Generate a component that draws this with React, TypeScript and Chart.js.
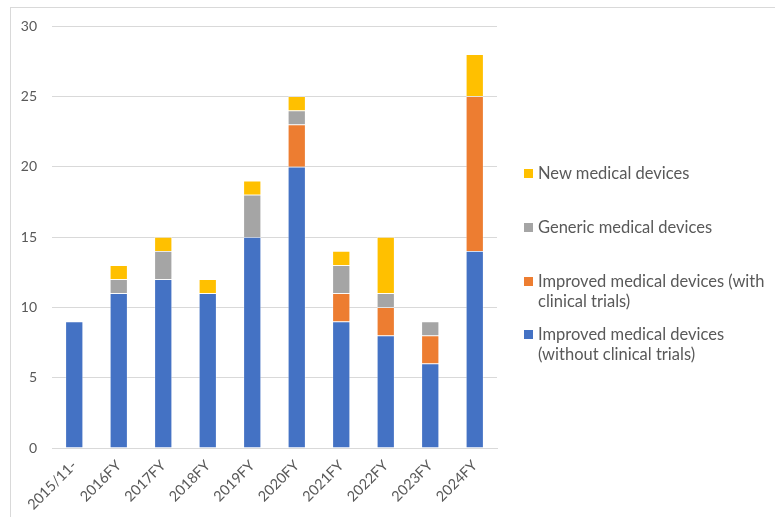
import React, { useEffect, useRef } from "react";
import { Chart, registerables } from "chart.js";

Chart.register(...registerables);

const categories = [
  "2015/11-",
  "2016FY",
  "2017FY",
  "2018FY",
  "2019FY",
  "2020FY",
  "2021FY",
  "2022FY",
  "2023FY",
  "2024FY",
];
const improvedWithout = [9, 11, 12, 11, 15, 20, 9, 8, 6, 14];
const improvedWith = [null, null, null, null, null, 3, 2, 2, 2, 11];
const genericDevices = [null, 1, 2, null, 3, 1, 2, 1, 1, null];
const newDevices = [null, 1, 1, 1, 1, 1, 1, 4, null, 3];

const seriesNames = [
  "Improved medical devices (without clinical trials)",
  "Improved medical devices (with clinical trials)",
  "Generic medical devices",
  "New medical devices",
];
const seriesColors = ["#4472C4", "#ED7D31", "#A5A5A5", "#FFC000"];

const legendItems = [
  { label: ["New medical devices"], color: "#FFC000", top: 163 },
  { label: ["Generic medical devices"], color: "#A5A5A5", top: 217 },
  { label: ["Improved medical devices (with", "clinical trials)"], color: "#ED7D31", top: 271 },
  { label: ["Improved medical devices", "(without clinical trials)"], color: "#4472C4", top: 324 },
];

const FONT = "Lato, 'Liberation Sans', sans-serif";
const TEXT = "#595959";

export default function App() {
  const ref = useRef<HTMLCanvasElement | null>(null);

  useEffect(() => {
    if (!ref.current) return;
    const data = [improvedWithout, improvedWith, genericDevices, newDevices];
    const chart = new Chart(ref.current, {
      type: "bar",
      data: {
        labels: categories,
        datasets: data.map((d, i) => ({
          label: seriesNames[i],
          data: d as any,
          backgroundColor: seriesColors[i],
          borderColor: "rgba(255,255,255,0.5)",
          borderWidth: 0.75,
          barPercentage: 0.4,
          categoryPercentage: 1,
        })),
      },
      options: {
        responsive: false,
        animation: false,
        layout: { padding: { left: 0, right: 278, top: 26, bottom: 0 } },
        plugins: { legend: { display: false }, tooltip: { enabled: false } },
        scales: {
          x: {
            stacked: true,
            grid: { display: false },
            border: { display: true, color: "#d9d9d9", width: 1 },
            ticks: {
              color: TEXT,
              font: { family: FONT, size: 14.5 },
              maxRotation: 45,
              minRotation: 45,
              padding: 1,
            },
            afterFit: (s: any) => {
              s.height = 69;
            },
          },
          y: {
            stacked: true,
            min: 0,
            max: 30,
            grid: { color: "#d9d9d9", lineWidth: 1, drawTicks: false },
            border: { display: false },
            ticks: {
              stepSize: 5,
              color: TEXT,
              font: { family: FONT, size: 14 },
              padding: 15,
            },
            afterFit: (s: any) => {
              s.width = 52;
            },
          },
        },
      },
    });
    return () => chart.destroy();
  }, []);

  return (
    <div
      style={{
        position: "fixed",
        left: 0,
        top: 0,
        width: 775,
        height: 517,
        overflow: "hidden",
        background: "#fff",
      }}
    >
      <div
        style={{
          position: "absolute",
          left: 10,
          top: 7,
          width: 900,
          height: 700,
          border: "1px solid #d9d9d9",
          boxSizing: "border-box",
        }}
      />
      <canvas
        ref={ref}
        width={775}
        height={517}
        style={{ position: "absolute", left: 0, top: 0, width: 775, height: 517 }}
      />
      {legendItems.map((it, i) => (
        <div
          key={i}
          style={{
            position: "absolute",
            left: 524,
            top: it.top,
            fontFamily: FONT,
            fontSize: 16.5,
            lineHeight: "20px",
            color: TEXT,
          }}
        >
          <span
            style={{
              position: "absolute",
              left: 0,
              top: 6,
              width: 9,
              height: 9,
              background: it.color,
            }}
          />
          <div style={{ marginLeft: 14, whiteSpace: "nowrap" }}>
            {it.label.map((l, j) => (
              <div key={j}>{l}</div>
            ))}
          </div>
        </div>
      ))}
    </div>
  );
}
